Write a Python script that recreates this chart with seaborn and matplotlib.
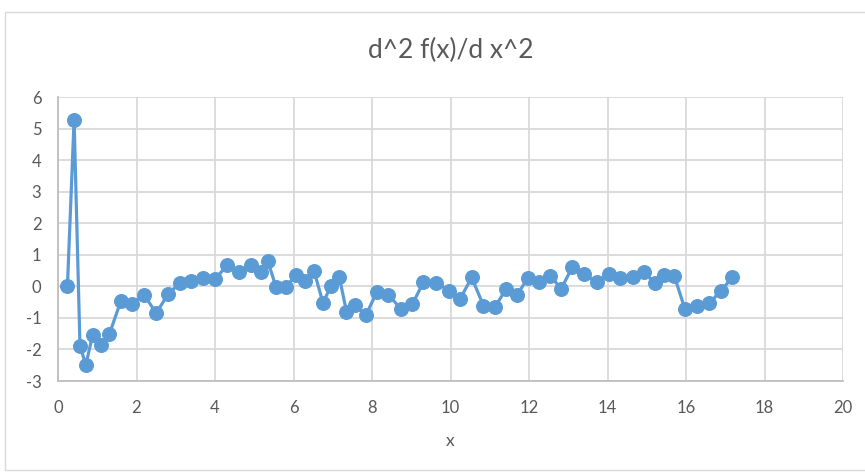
import numpy as np
import pandas as pd
import matplotlib
matplotlib.use("Agg")
import matplotlib.pyplot as plt
import seaborn as sns
from matplotlib.patches import Rectangle

# Values
x_vals = [0.24, 0.41, 0.56, 0.71, 0.88, 1.09, 1.31, 1.60, 1.89, 2.20, 2.50, 2.81, 3.10, 3.40, 3.70, 4.01,
          4.31, 4.61, 4.91, 5.16, 5.35, 5.55, 5.82, 6.06, 6.30, 6.52, 6.75, 6.96, 7.17, 7.35, 7.57, 7.84,
          8.12, 8.42, 8.73, 9.03, 9.31, 9.64, 9.95, 10.24, 10.54, 10.84, 11.14, 11.42, 11.69, 11.97, 12.25, 12.54,
          12.82, 13.10, 13.41, 13.72, 14.03, 14.33, 14.64, 14.94, 15.21, 15.45, 15.70, 15.97, 16.28, 16.59, 16.89, 17.18]
d2f_vals = [0.0, 5.28, -1.89, -2.49, -1.55, -1.86, -1.51, -0.47, -0.55, -0.28, -0.85, -0.24, 0.10, 0.16, 0.26, 0.24,
            0.67, 0.44, 0.68, 0.47, 0.79, -0.01, -0.01, 0.37, 0.16, 0.50, -0.52, 0.02, 0.28, -0.80, -0.59, -0.92,
            -0.19, -0.27, -0.71, -0.56, 0.13, 0.12, -0.14, -0.41, 0.28, -0.61, -0.64, -0.08, -0.27, 0.25, 0.13, 0.34,
            -0.08, 0.60, 0.39, 0.13, 0.39, 0.26, 0.31, 0.44, 0.09, 0.36, 0.34, -0.71, -0.61, -0.54, -0.14, 0.28]
x_ticks = list(range(0, 21, 2))
y_ticks = list(range(-3, 7))

df = pd.DataFrame({"x": x_vals, "d2f": d2f_vals})

sns.set_style("white")
plt.rcParams["font.family"] = ["Lato", "DejaVu Sans"]
plt.rcParams["axes.unicode_minus"] = False

text_color = "#595959"
grid_color = "#d9d9d9"
line_color = "#5b9bd5"

fig = plt.figure(figsize=(8.65, 4.73), dpi=100)
ax = fig.add_axes([58 / 865, 1 - 381 / 473, (843 - 58) / 865, (381 - 97) / 473])

# chart area border
fig.patches.append(Rectangle((5 / 865, 3 / 473), 1.0, 1 - 15 / 473, transform=fig.transFigure,
                             fill=False, edgecolor=grid_color, linewidth=1.0))

sns.lineplot(data=df, x="x", y="d2f", ax=ax, sort=False, color=line_color, linewidth=2.3,
             marker="o", markersize=10, markeredgecolor=line_color, zorder=3)

ax.set_xlim(0, 20)
ax.set_ylim(-3, 6)
ax.set_xticks(x_ticks)
ax.set_yticks(y_ticks)
ax.grid(True, color=grid_color, linewidth=1.3)
ax.set_axisbelow(True)
for side in ["top", "right"]:
    ax.spines[side].set_visible(False)
for side in ["left", "bottom"]:
    ax.spines[side].set_color("#bfbfbf")
    ax.spines[side].set_linewidth(1.3)
ax.tick_params(axis="both", length=0, labelsize=12, labelcolor=text_color)
ax.tick_params(axis="x", pad=14)
ax.tick_params(axis="y", pad=12)

fig.text((58 + 843) / 2 / 865, 1 - 50 / 473, "d^2 f(x)/d x^2", fontsize=19, color=text_color,
         ha="center", va="center")
ax.set_xlabel("x", fontsize=12.5, color=text_color, labelpad=12)
ax.set_ylabel("")

fig.savefig("out.png", dpi=100)
